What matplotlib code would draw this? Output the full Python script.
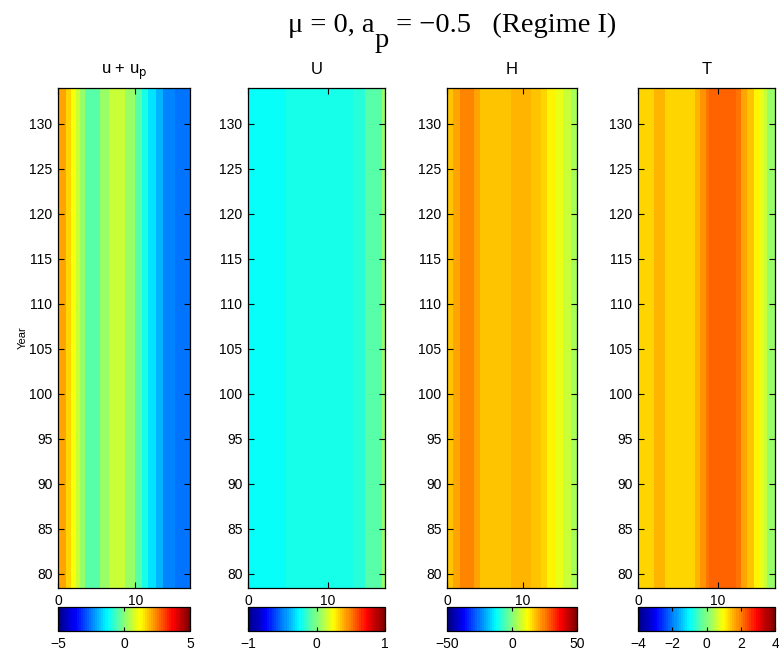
import numpy as np
import matplotlib
matplotlib.use("Agg")
import matplotlib.pyplot as plt
from matplotlib.colors import LinearSegmentedColormap

# years covered by the Hovmoller panels
years = np.arange(78, 135)

# panel titles, colour limits, colorbar ticks
titles = [r"u + u$_{\mathrm{p}}$", "U", "H", "T"]
clims = [(-5, 5), (-1, 1), (-50, 50), (-4, 4)]
cticks = [[-5, 0, 5], [-1, 0, 1], [-50, 0, 50], [-4, -2, 0, 2, 4]]

# x edges of the profile cells and the value in each cell (constant in time)
x_u = [0, 1.0, 1.73, 2.29, 2.90, 3.46, 5.41, 6.62, 8.66, 9.96, 10.82, 11.69, 12.68, 13.64, 15.15, 17.1]
v_u = [2.1, 1.65, 1.2, 0.7, 0.2, -0.4, 0.2, 0.7, 0.2, -0.4, -0.95, -1.5, -1.9, -2.5, -2.6]

x_U = [0, 1.54, 4.7, 13.1, 14.6, 16.7, 17.1]
v_U = [-0.23, -0.25, -0.21, -0.16, -0.08, 0.06]

x_H = [0, 0.79, 1.76, 3.52, 4.4, 8.37, 11.0, 12.3, 13.2, 14.3, 15.2, 16.3, 17.1]
v_H = [18.5, 20.5, 23.5, 20.5, 18.5, 20.0, 18.5, 16.0, 12.5, 10.0, 7.5, 3.5]

x_T = [0, 0.71, 1.96, 3.42, 7.17, 7.8, 8.5, 8.9, 12.2, 12.9, 13.6, 14.5, 15.1, 15.7, 16.1, 17.1]
v_T = [1.25, 1.3, 1.6, 1.3, 1.55, 1.82, 2.06, 2.2, 2.0, 1.7, 1.43, 1.1, 0.8, 0.56, 0.16]

# MATLAB style jet, 64 levels
jet = LinearSegmentedColormap.from_list(
    "mjet",
    [(0, (0, 0, 0.5)), (0.125, (0, 0, 1)), (0.375, (0, 1, 1)),
     (0.625, (1, 1, 0)), (0.875, (1, 0, 0)), (1, (0.5, 0, 0))],
    N=64,
)

W, H = 779, 651
fig = plt.figure(figsize=(W / 100, H / 100), dpi=100)

# pixel extents (left, right) of each panel
panel_px = [(58, 190), (248, 385), (447, 577), (638, 775)]
ax_bottom = (H - 588) / H
ax_height = 500 / H
cb_bottom = (H - 631) / H
cb_height = 24 / H

sans = "Liberation Sans"
profiles = [(x_u, v_u), (x_U, v_U), (x_H, v_H), (x_T, v_T)]

for i, ((xe, ve), (l, r)) in enumerate(zip(profiles, panel_px)):
    ax = fig.add_axes([l / W, ax_bottom, (r - l) / W, ax_height])
    C = np.tile(np.array(ve), (len(years) - 1, 1))
    mesh = ax.pcolormesh(np.array(xe), years, C, cmap=jet,
                         vmin=clims[i][0], vmax=clims[i][1], shading="flat")
    ax.set_xlim(0, 17.1)
    ax.set_ylim(78.4, 134)
    ax.set_xticks([0, 10])
    ax.set_yticks(np.arange(80, 131, 5))
    ax.tick_params(direction="in", top=True, right=True, length=4, width=0.8,
                   labelsize=10, pad=4)
    for lab in ax.get_xticklabels() + ax.get_yticklabels():
        lab.set_family(sans)
    for s in ax.spines.values():
        s.set_linewidth(0.9)
    ax.set_title(titles[i], fontsize=12, family=sans, pad=10,
                 math_fontfamily="dejavusans")
    if i == 0:
        ax.set_ylabel("Year", fontsize=8, family=sans, labelpad=1)

    cax = fig.add_axes([l / W, cb_bottom, (r - l) / W, cb_height])
    cb = fig.colorbar(mesh, cax=cax, orientation="horizontal", ticks=cticks[i])
    cb.outline.set_linewidth(0.9)
    cax.tick_params(direction="in", top=True, length=3, width=0.8,
                    labelsize=10, pad=4)
    for lab in cax.get_xticklabels():
        lab.set_family(sans)

# suptitle with a MATLAB-like dropped subscript
serif = dict(fontsize=20.5, family="Liberation Serif")
base_y = 1 - 32 / H
sub_y = 1 - 47 / H
ax0 = fig.axes[0]
t1 = fig.text(288 / W, base_y, "\u03bc = 0, a", ha="left", va="baseline", **serif)
t2 = ax0.annotate("p", xy=(1, sub_y), xycoords=(t1, "figure fraction"),
                  ha="left", va="baseline", annotation_clip=False, **serif)
t3 = ax0.annotate(" = \u22120.5   (Regime I)", xy=(1, base_y),
                  xycoords=(t2, "figure fraction"), ha="left", va="baseline",
                  annotation_clip=False, **serif)

fig.savefig("out.png", dpi=100)
